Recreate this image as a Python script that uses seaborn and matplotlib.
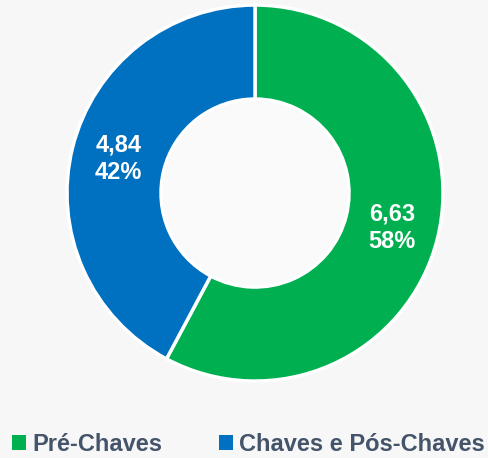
import numpy as np
import matplotlib
matplotlib.use("Agg")
import matplotlib.pyplot as plt
from matplotlib.patches import Patch
import seaborn as sns

# data
categories = ["Pré-Chaves", "Chaves e Pós-Chaves"]
values = [6.63, 4.84]
value_labels = ["6,63", "4,84"]
pct_labels = ["58%", "42%"]
colors = ["#00B050", "#0070C0"]

sns.set_theme(style="white")
plt.rcParams["font.family"] = ["Liberation Sans", "DejaVu Sans"]

bg = "#F7F7F7"
fig = plt.figure(figsize=(4.89, 4.58), dpi=100, facecolor=bg)
ax = fig.add_axes([0.137, 0.168, 0.769, 0.821])
ax.set_facecolor(bg)

wedges, _ = ax.pie(
    values,
    colors=colors,
    startangle=90,
    counterclock=False,
    radius=1.0,
    wedgeprops=dict(width=0.5, edgecolor="white", linewidth=2.5),
)
# slightly lighter hole
ax.add_patch(plt.Circle((0, 0), 0.49, color="#FAFAFA", zorder=0))

# labels in the middle of the ring
total = sum(values)
start = 90.0
for v, vl, pl in zip(values, value_labels, pct_labels):
    span = 360.0 * v / total
    mid = np.deg2rad(start - span / 2)
    r = 0.75
    ax.text(r * np.cos(mid), r * np.sin(mid), f"{vl}\n{pl}",
            ha="center", va="center", color="white",
            fontsize=17, fontweight="bold", linespacing=1.25)
    start -= span

ax.set_xlim(-1, 1)
ax.set_ylim(-1, 1)
ax.set_aspect("equal")
ax.axis("off")

handles = [Patch(facecolor=c, edgecolor="none") for c in colors]
leg = fig.legend(handles, categories, loc="center left",
                 bbox_to_anchor=(12 / 489, 0.03), ncol=2, frameon=False,
                 borderpad=0, borderaxespad=0,
                 handlelength=0.6, handleheight=0.6, handletextpad=0.25,
                 columnspacing=2.4,
                 prop=dict(size=17, weight="bold"))
for t in leg.get_texts():
    t.set_color("#44546A")

fig.savefig("out.png", dpi=100, facecolor=bg)
